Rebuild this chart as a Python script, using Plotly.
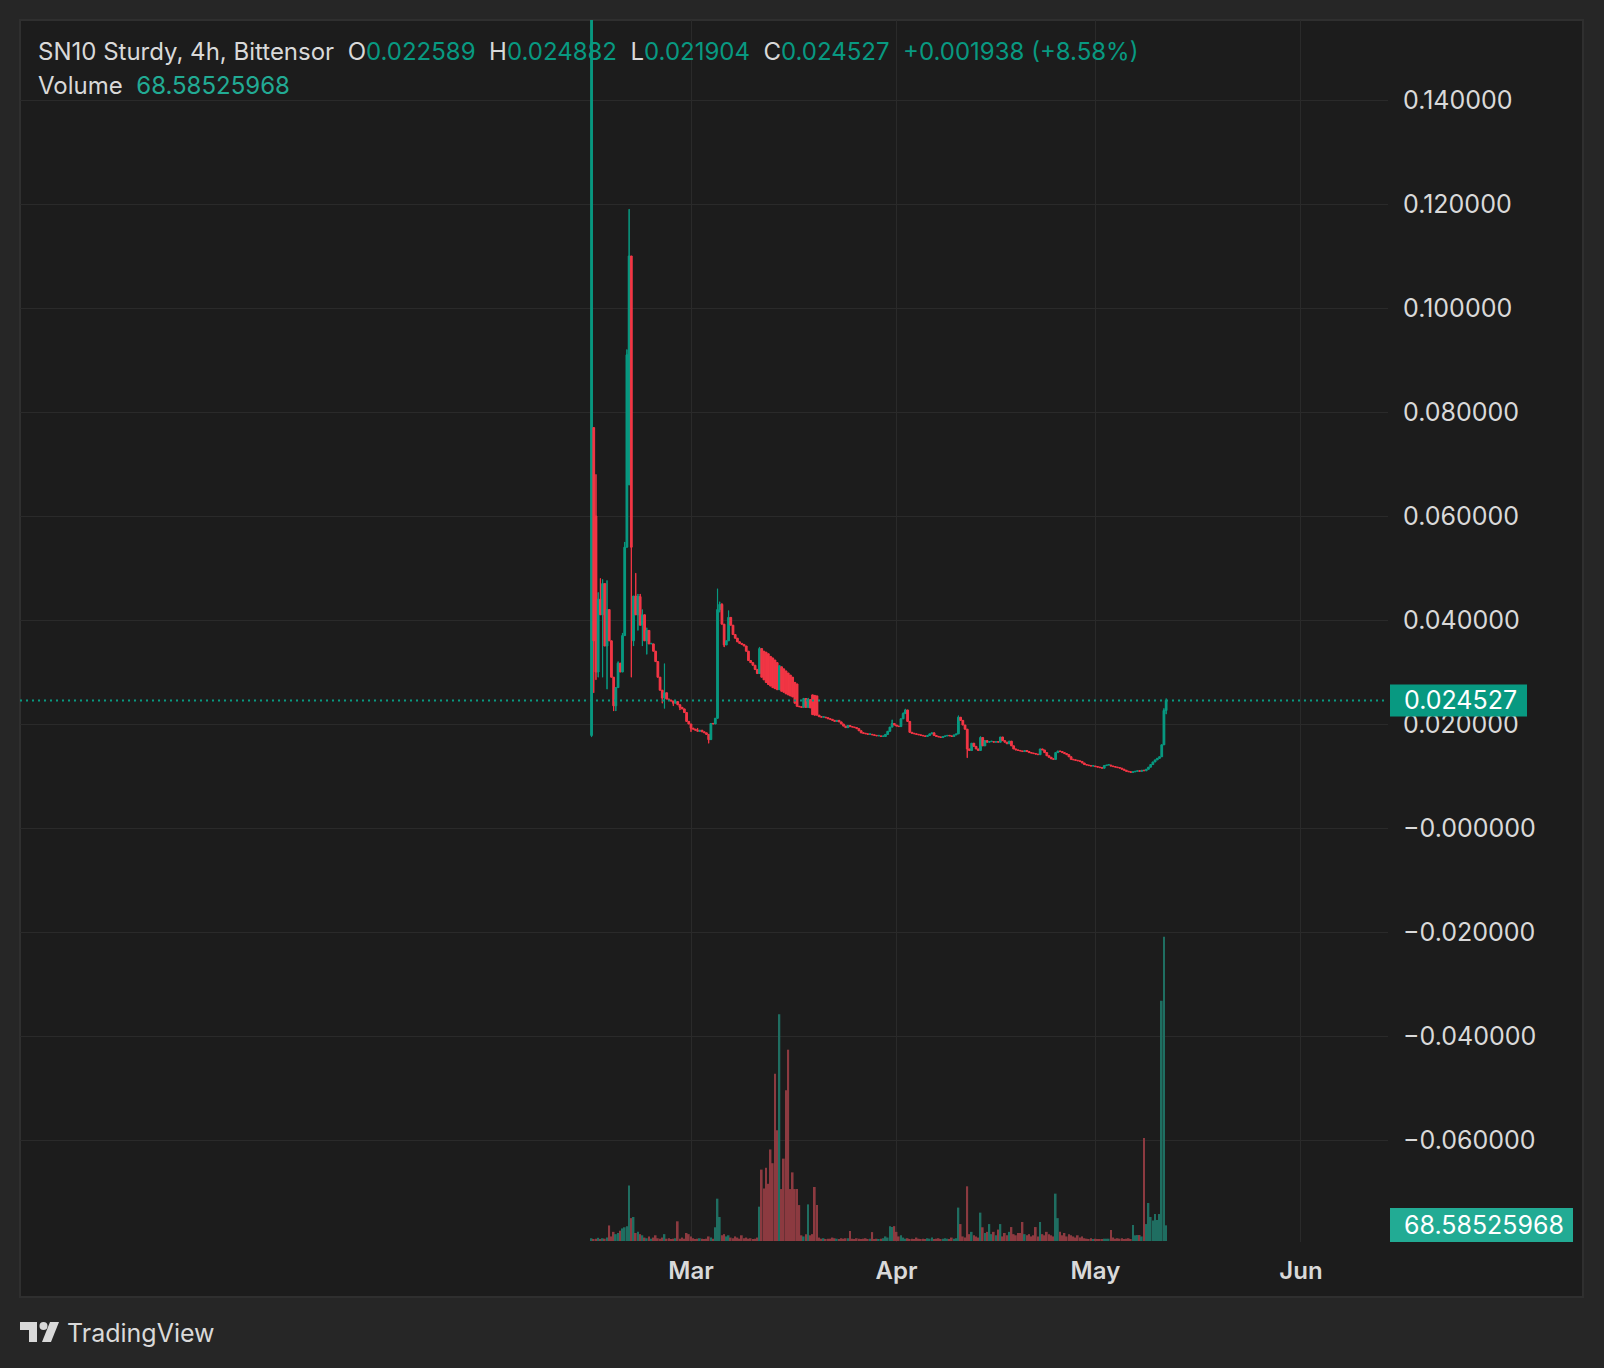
import pandas as pd
import plotly.graph_objects as go

# ---------------- data (8h candles) ----------------
START = "2025-02-14 00:00"
STEP = "8h"

close = [
    .2000, .0360, .0300, .0440, .0410, .0470, .0350, .0420, .0360, .0290,
    .0235, .0270, .0317, .0300, .0370, .0540, .0910, .1100, .0540, .0446,
    .0410, .0445, .0390, .0410, .0360, .0380, .0354, .0354, .0340, .0320,
    .0290, .0265, .0250, .0260, .0248, .0246, .0244, .0240, .0243, .0237,
    .0232, .0229, .0222, .0205, .0200, .0192, .0190, .0188, .0186, .0188,
    .0185, .0183, .0180, .0170, .0201, .0200, .0211, .0420, .0430, .0392,
    .0352, .0360, .0405, .0390, .0372, .0365, .0358, .0355, .0353, .0350,
    .0340, .0322, .0318, .0313, .0305, .0297, .0345, .0290, .0285, .0280,
    .0276, .0273, .0270, .0268, .0266, .0312, .0263, .0261, .0258, .0256,
    .0254, .0252, .0240, .0234, .0233, .0232, .0249, .0232, .0247, .0231,
    .0218, .0217, .0217, .0214, .0213, .0213, .0212, .0210, .0209, .0207,
    .0205, .0207, .0204, .0200, .0196, .0193, .0197, .0195, .0194, .0193,
    .0191, .0187, .0183, .0182, .0181, .0180, .0180, .0179, .0178, .0177,
    .0177, .0176, .0176, .0180, .0186, .0194, .0201, .0198, .0196, .0195,
    .0210, .0220, .0227, .0205, .0184, .0182, .0181, .0180, .0179, .0178,
    .0177, .0176, .0178, .0181, .0183, .0178, .0176, .0175, .0174, .0176,
    .0177, .0178, .0177, .0176, .0179, .0181, .0213, .0207, .0198, .0190,
    .0152, .0149, .0163, .0157, .0152, .0149, .0174, .0158, .0168, .0165,
    .0166, .0166, .0165, .0166, .0165, .0175, .0168, .0165, .0162, .0167,
    .0158, .0152, .0150, .0149, .0148, .0147, .0149, .0147, .0145, .0144,
    .0143, .0142, .0141, .0152, .0150, .0145, .0139, .0136, .0133, .0132,
    .0145, .0148, .0147, .0145, .0143, .0141, .0137, .0132, .0131, .0130,
    .0129, .0128, .0125, .0122, .0121, .0120, .0119, .0119, .0118, .0117,
    .0116, .0115, .0120, .0121, .0121, .0119, .0118, .0117, .0116, .0115,
    .0113, .0111, .0109, .0108, .0107, .0108, .0109, .0110, .0109, .0111,
    .0110, .0113, .0117, .0122, .0127, .0131, .0134, .0137, .0160, .0226,
    .024527,
]

# candles whose open does not equal the previous close (gaps)
open_gap = {
    0: .0178, 1: .0770, 2: .0600, 17: .0660, 19: .0360,
    78: .0340, 79: .0338, 80: .0335, 81: .0330, 82: .0327, 83: .0323, 84: .0318,
    86: .0310, 87: .0306, 88: .0302, 89: .0298, 90: .0294, 91: .0290,
    92: .0280, 93: .0277, 100: .0256, 101: .0255, 102: .0254, 260: .022589,
}
# upper wicks
high_wick = {
    0: .2000, 1: .0770, 2: .0680, 3: .0453, 4: .0480, 5: .0478, 6: .0410,
    7: .0476, 9: .0360, 12: .0320, 14: .0375, 15: .0550, 16: .0920, 17: .1190,
    18: .1100, 20: .0490, 21: .0450, 22: .0450, 23: .0420, 24: .0410, 25: .0385,
    33: .0316, 38: .0246, 48: .0192, 57: .0460, 58: .0435, 59: .0432, 62: .0418,
    76: .0348, 96: .0250, 98: .0250, 136: .0208, 141: .0222, 142: .0229,
    166: .0216, 176: .0176, 259: .0230, 260: .024882,
}
# lower wicks
low_wick = {
    0: .0175, 1: .0260, 2: .0285, 3: .0290, 5: .0290, 7: .0267, 10: .0225,
    11: .0225, 18: .0290, 19: .0350, 21: .0380, 23: .0350, 25: .0334, 32: .0240,
    33: .0230, 37: .0235, 40: .0227, 45: .0185, 53: .0163, 58: .0415, 60: .0348,
    170: .0135, 260: .021904,
}

volume = [
    12, 8, 10, 14, 9, 12, 10, 15, 68, 20,
    40, 30, 35, 45, 55, 60, 65, 243, 100, 105,
    35, 40, 30, 25, 15, 12, 20, 10, 15, 25,
    12, 10, 15, 30, 10, 12, 8, 10, 12, 86,
    10, 15, 10, 35, 30, 20, 12, 8, 10, 12,
    10, 8, 10, 20, 15, 10, 60, 185, 105, 25,
    30, 20, 25, 15, 12, 20, 15, 10, 25, 12,
    15, 10, 12, 8, 10, 15, 150, 312, 229, 320,
    250, 400, 340, 731, 484, 991, 227, 360, 659, 836,
    227, 300, 227, 227, 157, 25, 20, 30, 160, 25,
    30, 236, 157, 15, 10, 12, 8, 10, 10, 15,
    12, 10, 8, 12, 10, 12, 12, 44, 10, 8,
    12, 10, 8, 10, 12, 8, 10, 39, 8, 10,
    8, 10, 12, 20, 15, 65, 61, 65, 40, 20,
    25, 15, 10, 12, 8, 10, 8, 15, 10, 8,
    10, 8, 12, 10, 15, 8, 10, 12, 8, 10,
    12, 10, 8, 15, 10, 12, 146, 74, 20, 15,
    239, 30, 40, 25, 20, 15, 124, 60, 35, 40,
    74, 30, 40, 25, 50, 74, 20, 35, 25, 40,
    61, 30, 25, 35, 35, 83, 30, 25, 30, 20,
    25, 61, 20, 83, 30, 25, 40, 30, 25, 20,
    207, 100, 40, 25, 35, 20, 30, 25, 20, 15,
    25, 15, 20, 12, 10, 8, 12, 8, 10, 8,
    6, 8, 10, 10, 10, 48, 15, 10, 12, 10,
    12, 8, 10, 12, 8, 70, 25, 26, 26, 20,
    450, 74, 166, 105, 90, 118, 92, 118, 1050, 1330,
    68.58525968,
]

price_ticks = [0.14, 0.12, 0.10, 0.08, 0.06, 0.04, 0.02, 0.0, -0.02, -0.04, -0.06]
price_tick_text = ["0.140000", "0.120000", "0.100000", "0.080000", "0.060000",
                   "0.040000", "0.020000", "\u22120.000000", "\u22120.020000",
                   "\u22120.040000", "\u22120.060000"]
month_ticks = ["2025-03-01", "2025-04-01", "2025-05-01", "2025-06-01"]
month_text = ["Mar", "Apr", "May", "Jun"]

# ---------------- derived candle fields ----------------
n = len(close)
times = pd.date_range(START, periods=n, freq=STEP)
opens = [open_gap.get(i, close[i - 1] if i > 0 else close[0]) for i in range(n)]
highs = [high_wick.get(i, max(opens[i], close[i])) for i in range(n)]
lows = [low_wick.get(i, min(opens[i], close[i])) for i in range(n)]

UP = "#089981"
DOWN = "#F23645"
VOL_UP = "#1f6e61"
VOL_DOWN = "#8c3a40"
TXT = "#d9d9d9"
GRID = "#2a2a2a"
FONT = "Inter"

is_up = [close[i] >= opens[i] for i in range(n)]
ccolors = [UP if u else DOWN for u in is_up]
vcolors = [VOL_UP if u else VOL_DOWN for u in is_up]

# ---------------- geometry ----------------
W, H = 1604, 1368
PL, PR, PT, PB = 20, 1388, 20, 1242


def px(x):
    return (x - PL) / (PR - PL)


def py(y):
    return (PB - y) / (PB - PT)


ZERO_Y, PX_PER_UNIT = 828, 5200.0
price_range = [(ZERO_Y - PB) / PX_PER_UNIT, (ZERO_Y - PT) / PX_PER_UNIT]
MIN_H = 0.6 / PX_PER_UNIT  # keep flat candles visible (sub-pixel minimum)

MAR1_X, PX_PER_DAY = 691, 6.63
mar1 = pd.Timestamp("2025-03-01")
x_range = [mar1 - pd.Timedelta(days=(MAR1_X - PL) / PX_PER_DAY),
           mar1 + pd.Timedelta(days=(PR - MAR1_X) / PX_PER_DAY)]

VOL_PER_PX = 4.37
vol_range = [-1 * VOL_PER_PX, (PB - PT - 1) * VOL_PER_PX]

DX_MS = 8 * 3600 * 1000

fig = go.Figure()
# volume
fig.add_trace(go.Bar(
    x=times, y=volume, marker=dict(color=vcolors, line=dict(width=0)),
    width=DX_MS * 0.8, yaxis="y", xaxis="x", hoverinfo="skip", showlegend=False,
))
# candle wicks
fig.add_trace(go.Bar(
    x=times, base=lows, y=[max(highs[i] - lows[i], MIN_H) for i in range(n)],
    width=DX_MS * 0.08, marker=dict(color=ccolors, line=dict(color=ccolors, width=1)),
    yaxis="y2", xaxis="x", hoverinfo="skip", showlegend=False,
))
# candle bodies
fig.add_trace(go.Bar(
    x=times, base=[min(opens[i], close[i]) for i in range(n)],
    y=[max(abs(close[i] - opens[i]), MIN_H) for i in range(n)],
    width=DX_MS * 0.8, marker=dict(color=ccolors, line=dict(color=ccolors, width=1)),
    yaxis="y2", xaxis="x", hoverinfo="skip", showlegend=False,
))

last_o, last_h, last_l, last_c = opens[-1], highs[-1], lows[-1], close[-1]
chg = last_c - last_o
pct = chg / last_o * 100


def teal(s, c=UP):
    return f"<span style='color:{c}'>{s}</span>"


sp = "\u00a0\u00a0"
line1 = ("SN10 Sturdy, 4h, Bittensor" + sp + "O" + teal(f"{last_o:.6f}") + sp + "H" +
         teal(f"{last_h:.6f}") + sp + "L" + teal(f"{last_l:.6f}") + sp + "C" +
         teal(f"{last_c:.6f}") + sp + teal(f"{chg:+.6f} ({pct:+.2f}%)"))
line2 = "Volume" + sp + teal(f"{volume[-1]:.8f}", "#22ab94")

last_y = ZERO_Y - last_c * PX_PER_UNIT

shapes = [
    # panel
    dict(type="rect", xref="paper", yref="paper", x0=px(20), x1=px(1583),
         y0=py(1297), y1=py(20), fillcolor="#1c1c1c",
         line=dict(color="#2f2f2f", width=2), layer="below"),
    # last price dotted line
    dict(type="line", xref="paper", yref="y2", x0=0, x1=1, y0=last_c, y1=last_c,
         line=dict(color=UP, width=2, dash="2px,4px"), layer="above"),
    # last price label box
    dict(type="rect", xref="paper", yref="paper", x0=px(1390), x1=px(1527),
         y0=py(last_y + 16), y1=py(last_y - 16),
         fillcolor=UP, line=dict(width=0), layer="above"),
    # volume label box
    dict(type="rect", xref="paper", yref="paper", x0=px(1390), x1=px(1573),
         y0=py(1242), y1=py(1208), fillcolor="#22ab94", line=dict(width=0), layer="above"),
]


# TradingView logo
def path(pts):
    return "M " + " L ".join(f"{px(a):.5f},{py(b):.5f}" for a, b in pts) + " Z"


shapes += [
    dict(type="path", xref="paper", yref="paper",
         path=path([(20, 1322), (37, 1322), (37, 1342), (29, 1342), (29, 1330), (20, 1330)]),
         fillcolor="#d9d9d9", line=dict(width=0)),
    dict(type="circle", xref="paper", yref="paper", x0=px(39.5), x1=px(47.5),
         y0=py(1330), y1=py(1322), fillcolor="#d9d9d9", line=dict(width=0)),
    dict(type="path", xref="paper", yref="paper",
         path=path([(50, 1322), (59, 1322), (51, 1342), (42, 1342)]),
         fillcolor="#d9d9d9", line=dict(width=0)),
]

annotations = [
    dict(xref="paper", yref="paper", x=px(36), y=py(51), xanchor="left", yanchor="middle",
         text=line1, showarrow=False, font=dict(size=24, color=TXT, family=FONT)),
    dict(xref="paper", yref="paper", x=px(36), y=py(86), xanchor="left", yanchor="middle",
         text=line2, showarrow=False, font=dict(size=24, color=TXT, family=FONT)),
    dict(xref="paper", yref="paper", x=px(1402), y=py(last_y),
         xanchor="left", yanchor="middle", text=f"{last_c:.6f}", showarrow=False,
         font=dict(size=25, color="#ffffff", family=FONT)),
    dict(xref="paper", yref="paper", x=px(1402), y=py(1225), xanchor="left", yanchor="middle",
         text=f"{volume[-1]:.8f}", showarrow=False,
         font=dict(size=25, color="#ffffff", family=FONT)),
    dict(xref="paper", yref="paper", x=px(65), y=py(1333), xanchor="left", yanchor="middle",
         text="TradingView", showarrow=False,
         font=dict(size=25, color="#d9d9d9", family=FONT)),
]

fig.update_layout(
    width=W, height=H,
    margin=dict(l=PL, r=W - PR, t=PT, b=H - PB, pad=0),
    paper_bgcolor="#262626", plot_bgcolor="rgba(0,0,0,0)",
    font=dict(family=FONT, color=TXT),
    showlegend=False, barmode="overlay",
    xaxis=dict(type="date", range=x_range, tickvals=month_ticks, ticktext=month_text,
               showgrid=True, gridcolor=GRID, gridwidth=1, zeroline=False, showline=False,
               ticks="", tickfont=dict(size=24, color=TXT, family=FONT, weight=600),
               ticklabelstandoff=12, fixedrange=True),
    yaxis=dict(range=vol_range, visible=False, fixedrange=True),
    yaxis2=dict(range=price_range, overlaying="y", side="right", tickvals=price_ticks,
                ticktext=price_tick_text, showgrid=True, gridcolor=GRID, gridwidth=1,
                zeroline=False, showline=False, ticks="",
                tickfont=dict(size=25, color=TXT, family=FONT), ticklabelstandoff=14,
                fixedrange=True),
    shapes=shapes, annotations=annotations,
)

fig.write_html(
    "out.html",
    config={"displayModeBar": False},
    post_script="document.body.style.margin='0px';"
                "document.body.style.background='#262626';"
                "document.body.style.overflow='hidden';",
)
